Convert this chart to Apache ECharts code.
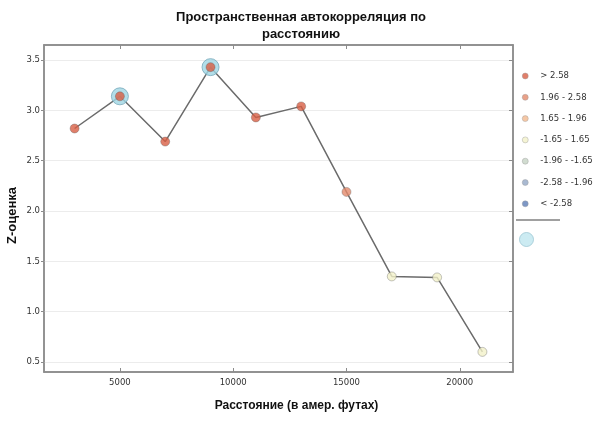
<!DOCTYPE html>
<html>
<head>
<meta charset="utf-8">
<script src="https://cdn.jsdelivr.net/npm/echarts@6/dist/echarts.min.js"></script>
<style>html,body{margin:0;padding:0;background:#fff}#c{width:600px;height:421px}</style>
</head>
<body>
<div id="c"></div>
<script>
var titleText = 'Пространственная автокорреляция по\nрасстоянию';
var xTitle = 'Расстояние (в амер. футах)';
var yTitle = 'Z-оценка';
var distances = [3000, 5000, 7000, 9000, 11000, 13000, 15000, 17000, 19000, 21000];
var zScores = [2.82, 3.14, 2.69, 3.43, 2.93, 3.04, 2.19, 1.35, 1.34, 0.60];
var peakDistances = [5000, 9000];
var classNames = ['> 2.58', '1.96 - 2.58', '1.65 - 1.96', '-1.65 - 1.65', '-1.96 - -1.65', '-2.58 - -1.96', '< -2.58'];
var classLower = [2.58, 1.96, 1.65, -1.65, -1.96, -2.58, -Infinity];
var classColors = ['#d85f45', '#e3896b', '#f2b98f', '#f3f1c9', '#c5d3c4', '#93a7c6', '#5d7db6'];
var xTicks = [5000, 10000, 15000, 20000];
var yTicks = [0.5, 1.0, 1.5, 2.0, 2.5, 3.0, 3.5];

function classOf(z) {
  for (var i = 0; i < classLower.length; i++) if (z > classLower[i]) return i;
  return classLower.length - 1;
}
var FONT = 'DejaVu Sans';
var chart = echarts.init(document.getElementById('c'));
var series = [];
series.push({
  name: 'line', type: 'line', data: distances.map(function (d, i) { return [d, zScores[i]]; }),
  showSymbol: false, symbol: 'none', lineStyle: { color: '#6b6b6b', width: 1.5 }, z: 2, silent: true,
  itemStyle: { color: '#a0a0a0' }
});
series.push({
  name: 'peak', type: 'scatter', symbolSize: 17, z: 3,
  data: distances.map(function (d, i) { return [d, zScores[i]]; }).filter(function (p) { return peakDistances.indexOf(p[0]) >= 0; }),
  itemStyle: { color: '#9fd6e4', borderColor: '#78a9ba', borderWidth: 1 }
});
classNames.forEach(function (n, ci) {
  series.push({
    name: n, type: 'scatter', symbolSize: 9, z: 4,
    data: distances.map(function (d, i) { return [d, zScores[i]]; }).filter(function (p) { return classOf(p[1]) === ci; }),
    itemStyle: { color: classColors[ci], borderColor: 'rgba(90,90,90,0.55)', borderWidth: 0.8 }
  });
});
var axisLineStyle = { color: '#8c8c8c', width: 1.5 };
chart.setOption({
  animation: false,
  title: {
    text: titleText, left: 296, textAlign: 'center', top: 4,
    textStyle: { fontFamily: 'Liberation Sans', fontWeight: 'bold', fontSize: 13, lineHeight: 17, color: '#111' }
  },
  legend: [{
    data: classNames, orient: 'vertical', left: 517, top: 65, icon: 'circle',
    itemWidth: 14, itemHeight: 6, itemGap: 9.3,
    itemStyle: { borderWidth: 0.5, borderColor: '#999' },
    textStyle: { fontFamily: FONT, fontSize: 8.5, color: '#333', lineHeight: 12, padding: [0, 0, 0, 3] }
  }, {
    data: ['line'], orient: 'vertical', left: 511, top: 214, icon: 'rect',
    itemWidth: 44, itemHeight: 2, formatter: function () { return ''; },
    itemStyle: { color: '#a0a0a0' }
  }, {
    data: ['peak'], orient: 'vertical', left: 514, top: 227, icon: 'circle',
    itemWidth: 14, itemHeight: 14, formatter: function () { return ''; },
    itemStyle: { color: '#bfe6ef', borderColor: '#9cc7d3', borderWidth: 1 }
  }],
  grid: { left: 44, right: 87, top: 45, bottom: 49, show: true, borderColor: '#8c8c8c', borderWidth: 1.5,
    outerBoundsMode: 'none', containLabel: false },
  xAxis: [{
    type: 'value', min: 1650, max: 22350, position: 'bottom',
    name: xTitle, nameLocation: 'middle', nameGap: 28, nameMoveOverlap: false,
    nameTextStyle: { fontFamily: 'Liberation Sans', fontWeight: 'bold', fontSize: 12, color: '#111', padding: [0, 0, 0, 36] },
    axisLine: { show: true, onZero: false, lineStyle: axisLineStyle },
    axisTick: { show: true, inside: true, length: 4, customValues: xTicks, lineStyle: { color: '#8c8c8c' } },
    axisLabel: { customValues: xTicks, fontFamily: FONT, fontSize: 8.5, color: '#333', margin: 6,
      formatter: function (v) { return String(v); } },
    splitLine: { show: false }
  }, {
    type: 'value', min: 1650, max: 22350, position: 'top',
    axisLine: { show: true, onZero: false, lineStyle: axisLineStyle },
    axisTick: { show: true, inside: true, length: 4, customValues: xTicks, lineStyle: { color: '#8c8c8c' } },
    axisLabel: { show: false }, splitLine: { show: false }
  }],
  yAxis: [{
    type: 'value', min: 0.4, max: 3.65, position: 'left',
    name: yTitle, nameLocation: 'middle', nameGap: 25, nameRotate: 90, nameMoveOverlap: false,
    nameTextStyle: { fontFamily: 'Liberation Sans', fontWeight: 'bold', fontSize: 13, color: '#111', padding: [0, 14, 0, 0] },
    axisLine: { show: true, onZero: false, lineStyle: axisLineStyle },
    axisTick: { show: true, inside: false, length: 3, customValues: yTicks, lineStyle: { color: '#8c8c8c' } },
    axisLabel: { customValues: yTicks, fontFamily: FONT, fontSize: 8.5, color: '#333', margin: 4,
      formatter: function (v) { return v.toFixed(1); } },
    splitLine: { show: true, lineStyle: { color: '#ececec', width: 1 } }
  }, {
    type: 'value', min: 0.4, max: 3.65, position: 'right',
    axisLine: { show: true, onZero: false, lineStyle: axisLineStyle },
    axisTick: { show: true, inside: true, length: 4, customValues: yTicks, lineStyle: { color: '#8c8c8c' } },
    axisLabel: { show: false }, splitLine: { show: false }
  }],
  series: series
});
</script>
</body>
</html>
